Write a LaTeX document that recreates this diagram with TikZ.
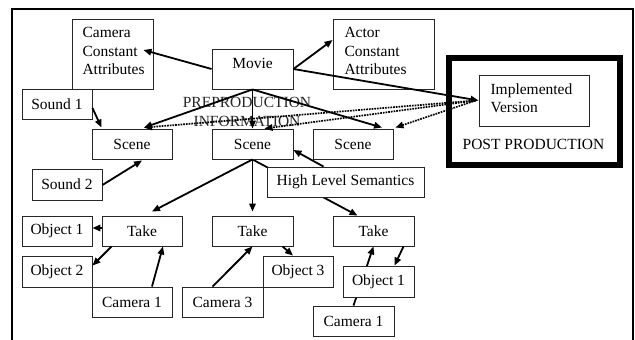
\documentclass[tikz,border=0pt]{standalone}
\usepackage{fontspec}
\setmainfont{Liberation Serif}
\usetikzlibrary{arrows.meta,calc}
\pgfdeclarelayer{bg}
\pgfsetlayers{bg,main}
\begin{document}
\begin{tikzpicture}[x=1pt,y=-1pt,
  font=\fontsize{15.5}{18.3}\selectfont,
  box/.style={draw=black!85, line width=0.9pt, fill=white, inner sep=0pt, align=center},
  arr/.style={line width=1.8pt, -{Triangle[length=8pt,width=6.5pt]}},
  darr/.style={line width=1.7pt, densely dotted, -{Triangle[length=8pt,width=6.5pt]}},
  frame/.style={line width=2.5pt},
  postframe/.style={draw, line width=6pt, inner sep=0pt},
]
\useasboundingbox (0,0) rectangle (635,340);
% outer frame
\draw[frame] (12,345) -- (12,9) -- (633,9) -- (633,345);

% preproduction label
\node[align=center, text=black!85] (pre) at (247,112) {PREPRODUCTION\\INFORMATION};

% post production frame
\node[postframe, minimum width=171pt, minimum height=107pt] (post) at (534.5,111.5) {};
\node (post-t) at (533.5,144) {POST PRODUCTION};

% boxes
\node[box, minimum width=81pt, minimum height=70pt] (cca) at (112.5,54) {};
\node[align=left, anchor=west] (cca-t) at (79,51) {Camera\\Constant\\Attributes};
\node[box, minimum width=81pt, minimum height=40pt] (movie) at (252.5,69) {};
\node (movie-t) at (252.5,63) {Movie};
\node[box, minimum width=101pt, minimum height=70pt] (actor) at (383.5,54) {};
\node[align=left, anchor=west] (actor-t) at (341,51) {Actor\\Constant\\Attributes};
\node[box, minimum width=110pt, minimum height=51pt] (impl) at (534,100.5) {};
\node[align=left, anchor=west] (impl-t) at (487,98) {Implemented\\Version};

\node[box, minimum width=70pt, minimum height=30pt] (sound1) at (57,104) {Sound 1};
\node[box, minimum width=80pt, minimum height=30pt] (scene1) at (132,144) {Scene};
\node[box, minimum width=81pt, minimum height=30pt] (scene2) at (252.5,144) {Scene};
\node[box, minimum width=80pt, minimum height=30pt] (scene3) at (353,144) {Scene};
\node[box, minimum width=70pt, minimum height=31pt] (sound2) at (67,184.5) {Sound 2};
\node[box, minimum width=157pt, minimum height=30pt] (hls) at (345.5,182) {High Level Semantics};

\node[box, minimum width=80pt, minimum height=30pt] (take1) at (142,231) {Take};
\node[box, minimum width=70pt, minimum height=30pt] (obj1l) at (57,231) {Object 1};
\node[box, minimum width=70pt, minimum height=31pt] (obj2) at (57,271.5) {Object 2};
\node[box, minimum width=80pt, minimum height=30pt] (cam1l) at (132,302) {Camera 1};
\node[box, minimum width=81pt, minimum height=30pt] (take2) at (252.5,231) {Take};
\node[box, minimum width=81pt, minimum height=30pt] (cam3) at (222.5,302) {Camera 3};
\node[box, minimum width=70pt, minimum height=31pt] (obj3) at (298,271.5) {Object 3};
\node[box, minimum width=81pt, minimum height=30pt] (take3) at (373.5,231) {Take};
\node[box, minimum width=71pt, minimum height=31pt] (obj1r) at (378.5,281.5) {Object 1};
\node[box, minimum width=81pt, minimum height=30pt] (cam1r) at (353.5,321) {Camera 1};

% hidden connectors (behind boxes)
\begin{pgfonlayer}{bg}
\draw[arr] (scene2.south) -- ($(take3.north)+(-16,0)$);
\draw[arr] (cam1r.north) -- (take3.south);
\end{pgfonlayer}

% connectors
\draw[arr] (movie.west) -- ($(cca.east)+(-10,-4)$);
\draw[arr] (movie.east) -- ($(actor.west)+(0,-14)$);
\draw[arr] (movie.east) -- (impl.west);
\draw[arr] (movie.south) -- ($(scene1.north)+(12,-1)$);
\draw[arr] (movie.south) -- (scene2.north);
\draw[arr] (movie.south) -- ($(scene3.north)+(29,-1)$);
\draw[darr] ($(impl.west)+(-3,0)$) -- ($(scene1.north)+(12,-1)$);
\draw[darr] ($(impl.west)+(-3,0)$) -- ($(scene2.north)+(12,0)$);
\draw[darr] ($(impl.west)+(-3,0)$) -- ($(scene3.north east)+(2,-1)$);
\draw[arr] ($(sound1.east)+(0,4)$) -- ($(scene1.north west)+(10,-1)$);
\draw[arr] ($(sound2.east)+(0,0.5)$) -- ($(scene1.south)+(10,1)$);
\draw[arr] ($(hls.north)+(-22,0)$) -- ($(scene2.east)+(0,6)$);
\draw[arr] (scene2.south) -- ($(take1.north)+(10,-4)$);
\draw[arr] (scene2.south) -- ($(take2.north)+(0,-4)$);
\draw[arr] ($(take1.west)+(0,-3)$) -- ($(obj1l.east)+(0,-3)$);
\draw[arr] ($(take1.south west)+(10,0)$) -- ($(obj2.north east)+(0,10)$);
\draw[arr] ($(cam1l.north)+(20,0)$) -- ($(take1.south)+(21,0)$);
\draw[arr] ($(cam3.north)+(-10,0)$) -- (take2.south);
\draw[arr] ($(take2.south)+(30,0)$) -- ($(obj3.north)+(-5,0)$);
\draw[arr] ($(take3.south)+(30,0)$) -- ($(obj1r.north)+(16,0)$);
\end{tikzpicture}
\end{document}
